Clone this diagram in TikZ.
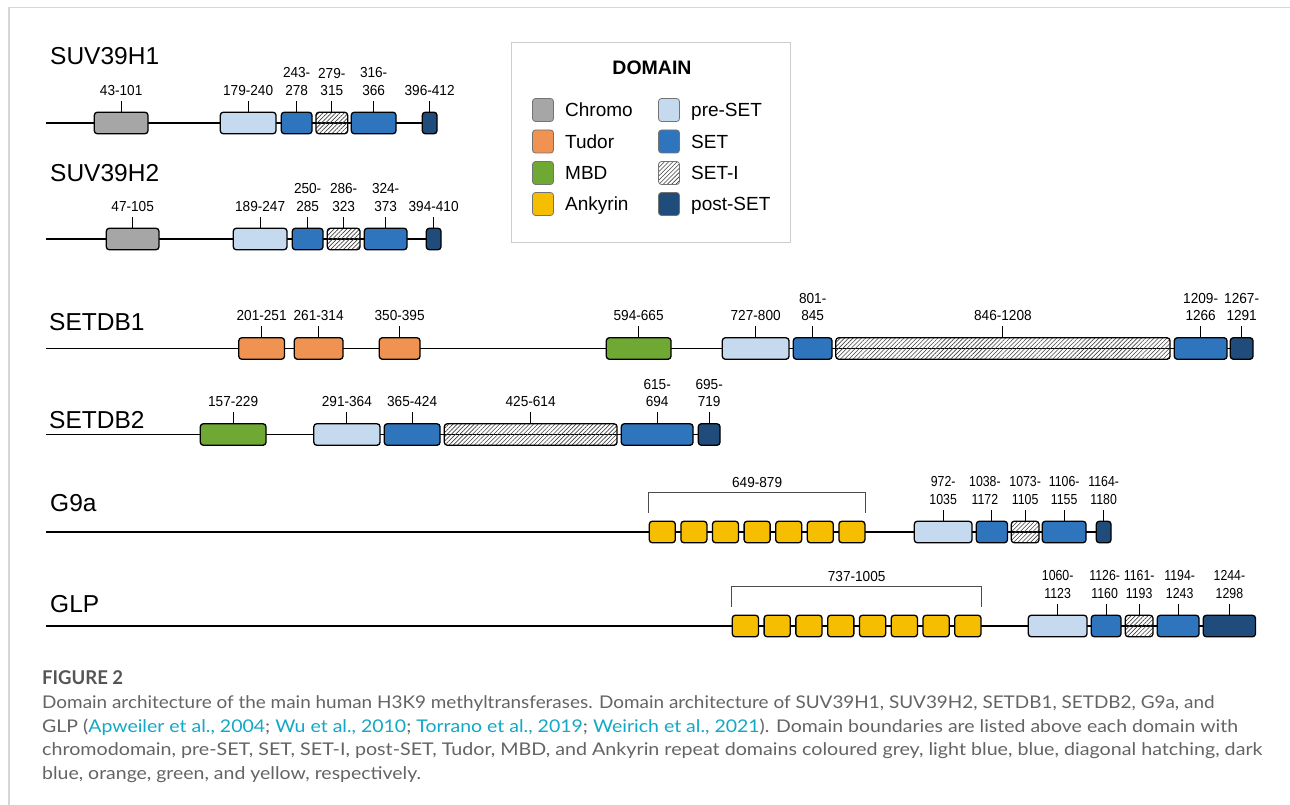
\documentclass[tikz,border=0pt]{standalone}
\usepackage{fontspec}
\usepackage{graphicx}
\setmainfont{Liberation Sans}
\newfontfamily\capfont{Lato}
\newfontfamily\labfont[FakeStretch=0.94]{Liberation Sans}
\newfontfamily\labnarrow[FakeStretch=0.85]{Liberation Sans}
\usetikzlibrary{patterns.meta}
\definecolor{cChromo}{RGB}{166,166,166}
\definecolor{cTudor}{RGB}{239,146,82}
\definecolor{cMBD}{RGB}{112,168,52}
\definecolor{cAnk}{RGB}{245,190,0}
\definecolor{cPre}{RGB}{198,218,239}
\definecolor{cSET}{RGB}{46,117,190}
\definecolor{cPost}{RGB}{31,76,122}
\definecolor{cFrame}{RGB}{214,214,214}
\definecolor{cLeg}{RGB}{205,205,205}
\definecolor{cCap}{RGB}{100,100,100}
\definecolor{cFig}{RGB}{85,85,85}
\definecolor{cCite}{RGB}{18,168,198}
\pgfdeclarelayer{bg}
\pgfsetlayers{bg,main}
\newcommand\dbox[5]{\node[#2, minimum width={#4-#3-1.3}] (#1) at ({#3+0.65},#5) {};}
\newcommand\dlab[3][0]{\draw[tickln] (#2.north) -- ([yshift=11pt]#2.north);
  \node[lab] (#2-l) at ([yshift=16pt,xshift=#1pt]#2.north) {#3};}
\newcommand\ankbracket[4]{\draw[brk] ([yshift=8pt]#1.north west) -- ([yshift=28pt]#1.north west)
  -- ([yshift=28pt]#2.north east) -- ([yshift=8pt]#2.north east);
  \path ([yshift=33pt]#1.north west) -- ([yshift=33pt]#2.north east) node[midway, lab] (#3) {#4};}
\begin{document}
\begin{tikzpicture}[x=1pt,y=-1pt,
  dombase/.style={draw=black, line width=1.3pt, rounded corners=3pt, minimum height=21.5pt, inner sep=0pt, anchor=west},
  chromo/.style={dombase, fill=cChromo},
  tudor/.style={dombase, fill=cTudor},
  mbd/.style={dombase, fill=cMBD},
  ank/.style={dombase, fill=cAnk},
  preset/.style={dombase, fill=cPre},
  setd/.style={dombase, fill=cSET},
  seti/.style={dombase, fill=white, pattern={Lines[angle=45,distance=3pt,line width=0.6pt]}, pattern color=black!75},
  postset/.style={dombase, fill=cPost},
  lab/.style={anchor=south, inner sep=0pt, align=center, text depth=0pt, font=\labfont\fontsize{14.5}{17.5}\selectfont},
  narrowlab/.style={lab/.append style={font=\labnarrow\fontsize{14.5}{17.5}\selectfont}},
  tickln/.style={line width=1.1pt, black},
  backbone/.style={line width=1.8pt, black},
  brk/.style={line width=0.8pt, black!70},
  title/.style={anchor=base west, inner sep=0pt, font=\fontsize{24.5}{28}\selectfont},
  legsw/.style={draw=black!55, line width=0.8pt, rounded corners=3pt, minimum width=21pt, minimum height=23pt, inner sep=0pt, anchor=center},
  legtxt/.style={anchor=base west, inner sep=0pt, font=\fontsize{19}{22}\selectfont},
  capbody/.style={anchor=base west, inner sep=0pt, text=cCap, font=\capfont\fontsize{17.5}{20}\selectfont},
]
\useasboundingbox (0,0) rectangle (1290,805);
\begin{pgfonlayer}{bg}
  \fill[white] (0,0) rectangle (1290,805);
  \draw[cFrame, line width=1.6pt] (9,805) -- (9,7.5) -- (1290,7.5);
\end{pgfonlayer}

% ---------- titles
\node[title] (tH1) at (50,65) {SUV39H1};
\node[title] (tH2) at (50,182) {SUV39H2};
\node[title] (tD1) at (49,330) {SETDB1};
\node[title] (tD2) at (49,428) {SETDB2};
\node[title] (tG9) at (50,511) {G9a};
\node[title] (tGL) at (50,612) {GLP};

% ---------- SUV39H1
\dbox{a1}{chromo}{93}{148}{123} \dlab{a1}{43-101}
\dbox{a2}{preset}{219}{276}{123} \dlab{a2}{179-240}
\dbox{a3}{setd}{280}{312}{123} \dlab{a3}{243-\\278}
\dbox{a4}{seti}{315}{348}{123} \dlab{a4}{279-\\315}
\dbox{a5}{setd}{350}{396}{123} \dlab{a5}{316-\\366}
\dbox{a6}{postset}{421}{437}{123} \dlab{a6}{396-412}

% ---------- SUV39H2
\dbox{b1}{chromo}{105}{159}{239} \dlab{b1}{47-105}
\dbox{b2}{preset}{232}{287}{239} \dlab{b2}{189-247}
\dbox{b3}{setd}{291}{323}{239} \dlab{b3}{250-\\285}
\dbox{b4}{seti}{326}{360}{239} \dlab{b4}{286-\\323}
\dbox{b5}{setd}{363}{407}{239} \dlab{b5}{324-\\373}
\dbox{b6}{postset}{425}{441}{239} \dlab{b6}{394-410}

% ---------- SETDB1
\dbox{c1}{tudor}{237.5}{284.5}{348.5} \dlab{c1}{201-251}
\dbox{c2}{tudor}{293}{343}{348.5} \dlab{c2}{261-314}
\dbox{c3}{tudor}{378}{420}{348.5} \dlab{c3}{350-395}
\dbox{c4}{mbd}{605}{671}{348.5} \dlab{c4}{594-665}
\dbox{c5}{preset}{721}{789}{348.5} \dlab{c5}{727-800}
\dbox{c6}{setd}{792}{832}{348.5} \dlab{c6}{801-\\845}
\dbox{c7}{seti}{834.5}{1170}{348.5} \dlab{c7}{846-1208}
\dbox{c8}{setd}{1173}{1227}{348.5} \dlab{c8}{1209-\\1266}
\dbox{c9}{postset}{1229}{1253}{348.5} \dlab{c9}{1267-\\1291}

% ---------- SETDB2
\dbox{d1}{mbd}{199}{266}{434.5} \dlab{d1}{157-229}
\dbox{d2}{preset}{312.5}{380}{434.5} \dlab{d2}{291-364}
\dbox{d3}{setd}{383}{440}{434.5} \dlab{d3}{365-424}
\dbox{d4}{seti}{443}{617}{434.5} \dlab{d4}{425-614}
\dbox{d5}{setd}{620}{693}{434.5} \dlab{d5}{615-\\694}
\dbox{d6}{postset}{697}{720}{434.5} \dlab{d6}{695-\\719}

% ---------- G9a
\foreach \i in {0,...,6}{
  \pgfmathsetmacro\xa{648+\i*31.6}
  \pgfmathsetmacro\xb{\xa+27.3}
  \dbox{ga\i}{ank}{\xa}{\xb}{532}
}
\ankbracket{ga0}{ga6}{gal}{649-879}
\begin{scope}[narrowlab]
\dbox{e1}{preset}{913}{972}{532} \dlab{e1}{972-\\1035}
\dbox{e2}{setd}{975}{1007.5}{532} \dlab[-7]{e2}{1038-\\1172}
\dbox{e3}{seti}{1010}{1039}{532} \dlab{e3}{1073-\\1105}
\dbox{e4}{setd}{1041}{1086}{532} \dlab{e4}{1106-\\1155}
\dbox{e5}{postset}{1095}{1111}{532} \dlab{e5}{1164-\\1180}
\end{scope}

% ---------- GLP
\foreach \i in {0,...,7}{
  \pgfmathsetmacro\xa{731+\i*31.79}
  \pgfmathsetmacro\xb{\xa+27.5}
  \dbox{gb\i}{ank}{\xa}{\xb}{626}
}
\ankbracket{gb0}{gb7}{gbl}{737-1005}
\begin{scope}[narrowlab]
\dbox{f1}{preset}{1027}{1087}{626} \dlab{f1}{1060-\\1123}
\dbox{f2}{setd}{1090}{1121}{626} \dlab[-1.5]{f2}{1126-\\1160}
\dbox{f3}{seti}{1124}{1153}{626} \dlab{f3}{1161-\\1193}
\dbox{f4}{setd}{1156}{1199}{626} \dlab[1.5]{f4}{1194-\\1243}
\dbox{f5}{postset}{1202}{1255.5}{626} \dlab{f5}{1244-\\1298}
\end{scope}

% ---------- backbones
\coordinate (sA) at (46,123);
\coordinate (sB) at (46,239);
\coordinate (sC) at (46,348.5);
\coordinate (sD) at (46,434.5);
\coordinate (sE) at (46,532);
\coordinate (sF) at (46,626);
\begin{pgfonlayer}{bg}
  \draw[backbone] (sA) -- (a6.center);
  \draw[backbone] (sB) -- (b6.center);
  \draw[backbone] (sC) -- (c9.center);
  \draw[backbone] (sD) -- (d6.center);
  \draw[backbone] (sE) -- (e5.center);
  \draw[backbone] (sF) -- (f5.center);
\end{pgfonlayer}

% ---------- legend
\node[draw=cLeg, line width=1pt, minimum width=279pt, minimum height=200pt, inner sep=0pt, anchor=north west] (legend) at (511,42) {};
\node[anchor=base, inner sep=0pt, font=\bfseries\fontsize{19.5}{22}\selectfont] (legtitle) at (652,75) {DOMAIN};
\node[legsw, fill=cChromo] (L1) at (543,110) {};
\node[legtxt] (L1t) at (565,117) {Chromo};
\node[legsw, fill=cTudor] (L2) at (543,141.5) {};
\node[legtxt] (L2t) at (565,148.5) {Tudor};
\node[legsw, fill=cMBD] (L3) at (543,173) {};
\node[legtxt] (L3t) at (565,180) {MBD};
\node[legsw, fill=cAnk] (L4) at (543,204) {};
\node[legtxt] (L4t) at (565,211) {Ankyrin};
\node[legsw, fill=cPre] (R1) at (669,110) {};
\node[legtxt] (R1t) at (691,117) {pre-SET};
\node[legsw, fill=cSET] (R2) at (669,141.5) {};
\node[legtxt] (R2t) at (691,148.5) {SET};
\node[legsw, fill=white, pattern={Lines[angle=45,distance=3pt,line width=0.6pt]}, pattern color=black!75] (R3) at (669,173) {};
\node[legtxt] (R3t) at (691,180) {SET-I};
\node[legsw, fill=cPost] (R4) at (669,204) {};
\node[legtxt] (R4t) at (691,211) {post-SET};

% ---------- caption
\node[anchor=base west, inner sep=0pt, text=cFig, font=\capfont\bfseries\fontsize{19}{22}\selectfont] (figl) at (42,684) {\resizebox{81pt}{\height}{FIGURE 2}};
\node[capbody] (cap1) at (42,708) {\resizebox{1172pt}{\height}{Domain architecture of the main human H3K9 methyltransferases. Domain architecture of SUV39H1, SUV39H2, SETDB1, SETDB2, G9a, and}};
\node[capbody] (cap2) at (42,732) {\resizebox{1196pt}{\height}{GLP (\textcolor{cCite}{Apweiler et al., 2004}; \textcolor{cCite}{Wu et al., 2010}; \textcolor{cCite}{Torrano et al., 2019}; \textcolor{cCite}{Weirich et al., 2021}). Domain boundaries are listed above each domain with}};
\node[capbody] (cap3) at (42,755.5) {\resizebox{1220pt}{\height}{chromodomain, pre-SET, SET, SET-I, post-SET, Tudor, MBD, and Ankyrin repeat domains coloured grey, light blue, blue, diagonal hatching, dark}};
\node[capbody] (cap4) at (42,779) {\resizebox{379pt}{\height}{blue, orange, green, and yellow, respectively.}};
\end{tikzpicture}
\end{document}
